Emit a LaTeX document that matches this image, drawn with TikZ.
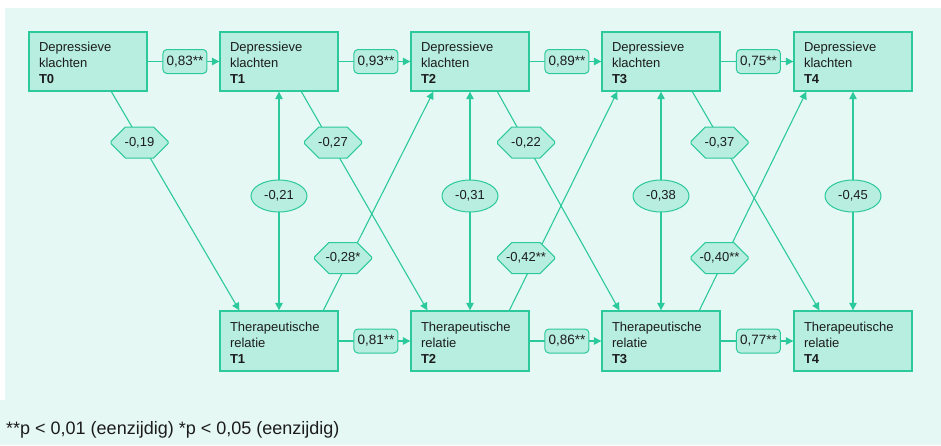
\documentclass[tikz,border=0pt]{standalone}
\usepackage{fontspec}
\setmainfont{Liberation Sans}
\usetikzlibrary{arrows.meta,shapes.geometric,shapes.misc}
\definecolor{panel}{RGB}{230,248,243}
\definecolor{boxfill}{RGB}{183,238,223}
\definecolor{lineg}{RGB}{44,201,156}
\definecolor{ink}{RGB}{28,28,28}
\begin{document}
\begin{tikzpicture}[x=1pt,y=-1pt,
  every node/.style={text=ink},
  varbox/.style={draw=lineg, line width=1.3pt, fill=boxfill, minimum width=118pt,
    minimum height=59pt, text width=98pt, inner xsep=10pt, inner ysep=0pt,
    align=left, font=\fontsize{13}{16}\selectfont},
  coef/.style={draw=lineg, line width=1pt, fill=boxfill, rounded corners=4pt,
    minimum width=44pt, minimum height=24pt, inner sep=1pt,
    font=\fontsize{13.5}{15}\selectfont},
  ell/.style={ellipse, draw=lineg, line width=1pt, fill=boxfill, minimum width=56pt,
    minimum height=32pt, inner sep=0pt, font=\fontsize{13}{15}\selectfont},
  hexa/.style={chamfered rectangle, chamfered rectangle xsep=28.5pt,
    chamfered rectangle ysep=9pt, draw=lineg, line width=1pt, fill=boxfill,
    minimum width=57pt, minimum height=31pt, inner sep=0pt,
    font=\fontsize{13}{15}\selectfont},
  conn/.style={draw=lineg, line width=1.1pt},
  tip/.style={-{Triangle[length=7.5pt,width=7.5pt]}},
  bitip/.style={{Triangle[length=7.5pt,width=7.5pt]}-{Triangle[length=7.5pt,width=7.5pt]}}
]
\useasboundingbox (0,0) rectangle (941,445);
\fill[panel] (5,8) rectangle (941,445);
\fill[panel] (0,400) rectangle (941,445);

% top row
\node[varbox] (d0) at (88,61.5) {\rule{0pt}{12.5pt}Depressieve\\klachten\\\textbf{T0}};
\node[varbox] (d1) at (279,61.5) {\rule{0pt}{12.5pt}Depressieve\\klachten\\\textbf{T1}};
\node[varbox] (d2) at (470,61.5) {\rule{0pt}{12.5pt}Depressieve\\klachten\\\textbf{T2}};
\node[varbox] (d3) at (661,61.5) {\rule{0pt}{12.5pt}Depressieve\\klachten\\\textbf{T3}};
\node[varbox] (d4) at (853,61.5) {\rule{0pt}{12.5pt}Depressieve\\klachten\\\textbf{T4}};
% bottom row
\node[varbox, minimum height=60pt] (r1) at (279,341) {\rule{0pt}{12.5pt}Therapeutische\\relatie\\\textbf{T1}};
\node[varbox, minimum height=60pt] (r2) at (470,341) {\rule{0pt}{12.5pt}Therapeutische\\relatie\\\textbf{T2}};
\node[varbox, minimum height=60pt] (r3) at (661,341) {\rule{0pt}{12.5pt}Therapeutische\\relatie\\\textbf{T3}};
\node[varbox, minimum height=60pt] (r4) at (853,341) {\rule{0pt}{12.5pt}Therapeutische\\relatie\\\textbf{T4}};

% cross-lagged downward
\draw[conn,tip] ([xshift=83pt]d0.south west) -- ([xshift=20pt]r1.north west);
\draw[conn,tip] ([xshift=82pt]d1.south west) -- ([xshift=17pt]r2.north west);
\draw[conn,tip] ([xshift=87pt]d2.south west) -- ([xshift=18pt]r3.north west);
\draw[conn,tip] ([xshift=91pt]d3.south west) -- ([xshift=26pt]r4.north west);
% cross-lagged upward
\draw[conn,tip] ([xshift=104pt]r1.north west) -- ([xshift=23pt]d2.south west);
\draw[conn,tip] ([xshift=99pt]r2.north west) -- ([xshift=16pt]d3.south west);
\draw[conn,tip] ([xshift=98pt]r3.north west) -- ([xshift=13pt]d4.south west);
% vertical correlations
\draw[conn,bitip] (d1.south) -- (r1.north);
\draw[conn,bitip] (d2.south) -- (r2.north);
\draw[conn,bitip] (d3.south) -- (r3.north);
\draw[conn,bitip] (d4.south) -- (r4.north);

% autoregressive
\draw[conn,tip] (d0.east) -- (d1.west) node[coef,pos=0.52] (a01) {0,83**};
\draw[conn,tip] (d1.east) -- (d2.west) node[coef,pos=0.52] (a12) {0,93**};
\draw[conn,tip] (d2.east) -- (d3.west) node[coef,pos=0.52] (a23) {0,89**};
\draw[conn,tip] (d3.east) -- (d4.west) node[coef,pos=0.52] (a34) {0,75**};
\draw[conn,tip] (r1.east) -- (r2.west) node[coef,pos=0.52] (b12) {0,81**};
\draw[conn,tip] (r2.east) -- (r3.west) node[coef,pos=0.52] (b23) {0,86**};
\draw[conn,tip] (r3.east) -- (r4.west) node[coef,pos=0.52] (b34) {0,77**};

% labels
\node[hexa] (h01) at (139.5,142.5) {-0,19};
\node[hexa] (h12) at (333,142.5) {-0,27};
\node[hexa] (h23) at (526,142.5) {-0,22};
\node[hexa] (h34) at (719.5,142.5) {-0,37};
\node[hexa] (u12) at (343,258) {-0,28*};
\node[hexa] (u23) at (526,258) {-0,42**};
\node[hexa] (u34) at (719.5,258) {-0,40**};
\node[ell] (e1) at (279,196) {-0,21};
\node[ell] (e2) at (470,196) {-0,31};
\node[ell] (e3) at (661,196) {-0,38};
\node[ell] (e4) at (853,196) {-0,45};

\node[anchor=base west, inner sep=0pt, font=\fontsize{18}{20}\selectfont] (foot) at (6,434)
  {**p < 0,01 (eenzijdig) *p < 0,05 (eenzijdig)};
\end{tikzpicture}
\end{document}
